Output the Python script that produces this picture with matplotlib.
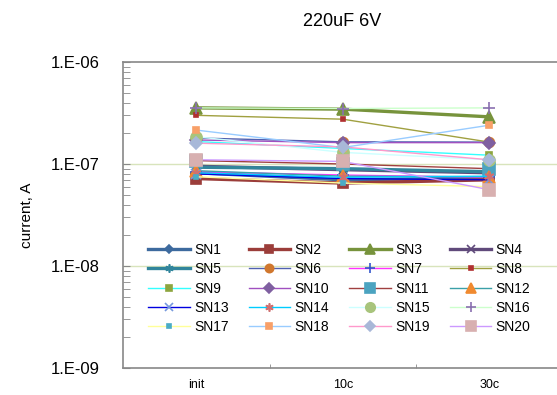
import math
import matplotlib
matplotlib.use("Agg")
import matplotlib.pyplot as plt
from matplotlib.ticker import FixedLocator, NullFormatter, FixedFormatter

plt.rcParams['font.family'] = ['Liberation Sans', 'DejaVu Sans']

categories = ['init', '10c', '30c']
names = ['SN%d' % i for i in range(1, 21)]
y_ticks = [1e-9, 1e-8, 1e-7, 1e-6]
y_tick_labels = ['1.E-09', '1.E-08', '1.E-07', '1.E-06']

SN1 = [8.2e-8, 7.0e-8, 7.3e-8]
SN2 = [7.2e-8, 6.5e-8, 7.0e-8]
SN3 = [3.55e-7, 3.45e-7, 2.9e-7]
SN4 = [9.5e-8, 8.8e-8, 8.2e-8]
SN5 = [9.3e-8, 9.0e-8, 8.4e-8]
SN6 = [1.8e-7, 1.65e-7, 1.64e-7]
SN7 = [8.4e-8, 7.8e-8, 7.4e-8]
SN8 = [3.0e-7, 2.75e-7, 1.64e-7]
SN9 = [1.66e-7, 1.42e-7, 1.22e-7]
SN10 = [1.72e-7, 1.62e-7, 1.62e-7]
SN11 = [1.08e-7, 1.0e-7, 9.0e-8]
SN12 = [8.6e-8, 7.6e-8, 7.5e-8]
SN13 = [8.0e-8, 7.2e-8, 7.0e-8]
SN14 = [8.2e-8, 7.4e-8, 7.6e-8]
SN15 = [1.85e-7, 1.3e-7, 1.1e-7]
SN16 = [3.55e-7, 3.5e-7, 3.55e-7]
SN17 = [7.5e-8, 6.5e-8, 6.0e-8]
SN18 = [2.15e-7, 1.45e-7, 2.4e-7]
SN19 = [1.6e-7, 1.47e-7, 1.1e-7]
SN20 = [1.1e-7, 1.06e-7, 5.6e-8]
series = [SN1, SN2, SN3, SN4, SN5, SN6, SN7, SN8, SN9, SN10,
          SN11, SN12, SN13, SN14, SN15, SN16, SN17, SN18, SN19, SN20]

# (line color, line width, marker, marker size, marker color)
styles = [
    ('#3D6A9E', 2.4, 'D', 5, '#3D6A9E'),
    ('#9B3D3A', 2.4, 's', 7, '#9B3D3A'),
    ('#77933C', 2.4, '^', 9, '#77933C'),
    ('#604A7B', 2.4, 'x', 6, '#604A7B'),
    ('#31859C', 2.4, (6, 2, 0), 7, '#31859C'),
    ('#5060B0', 1.0, 'o', 7, '#D0772E'),
    ('#FF33FF', 1.0, '+', 8, '#3355CC'),
    ('#A0A040', 1.0, 's', 3.5, '#B03030'),
    ('#33FFFF', 1.0, 's', 5, '#8DA53F'),
    ('#A050C0', 1.0, 'D', 6, '#7F5FA0'),
    ('#A04040', 1.0, 's', 8, '#4BA3C0'),
    ('#3BA0A8', 1.0, '^', 8, '#F08A30'),
    ('#0000E0', 1.0, 'x', 7, '#7799DD'),
    ('#00CCFF', 1.0, (6, 2, 0), 7, '#D07070'),
    ('#CCFFFF', 1.0, 'o', 8, '#A8C47C'),
    ('#CCFFCC', 1.0, '+', 8, '#8A70B0'),
    ('#FFFF99', 1.0, 's', 3.5, '#4AACC6'),
    ('#99CCFF', 1.0, 's', 5, '#F8A068'),
    ('#FF99CC', 1.0, 'D', 6, '#A8B8D8'),
    ('#CC99FF', 1.0, 's', 8, '#D8B0B0'),
]

W, H = 557, 395
fig = plt.figure(figsize=(W / 100, H / 100), dpi=100)
ax_l, ax_r, ax_t, ax_b = 123, 562.5, 62, 368
ax = fig.add_axes([ax_l / W, 1 - ax_b / H, (ax_r - ax_l) / W, (ax_b - ax_t) / H])

x = list(range(len(categories)))
handles = []
for name, ys, (lc, lw, mk, ms, mc) in zip(names, series, styles):
    h, = ax.plot(x, ys, color=lc, lw=lw, marker=mk, ms=ms, mfc=mc, mec=mc,
                 mew=1.2, label=name, clip_on=False)
    handles.append(h)

ax.set_yscale('log')
ax.set_ylim(1e-9, 1e-6)
ax.set_xlim(-0.5, 2.5)

ax.yaxis.set_major_locator(FixedLocator(y_ticks))
ax.yaxis.set_major_formatter(FixedFormatter(y_tick_labels))
minor = [m * d for d in [1e-9, 1e-8, 1e-7] for m in range(2, 10)]
ax.yaxis.set_minor_locator(FixedLocator(minor))
ax.yaxis.set_minor_formatter(NullFormatter())
ax.tick_params(axis='y', which='both', direction='in', length=5, color='#888888',
               labelsize=12, pad=17)

ax.set_xticks(x)
ax.set_xticklabels(categories)
ax.tick_params(axis='x', which='major', length=0, labelsize=9, pad=8)
ax.xaxis.set_minor_locator(FixedLocator([0.5, 1.5]))
ax.tick_params(axis='x', which='minor', direction='in', length=3, color='#888888')

for v in [1e-8, 1e-7]:
    ax.axhline(v, color='#D8E4BC', lw=1.0, zorder=0.5)

for s in ['left', 'bottom', 'top']:
    ax.spines[s].set_color('#888888')
    ax.spines[s].set_linewidth(1.2)
ax.spines['right'].set_visible(False)

ax.set_ylabel('current, A', fontsize=11, labelpad=12)
fig.text(342 / W, 1 - 22 / H, '220uF 6V', fontsize=13, ha='center', va='center')

order = []
ncol = 4
nrow = 5
for c in range(ncol):
    for r in range(nrow):
        order.append(r * ncol + c)
leg = ax.legend([handles[i] for i in order], [names[i] for i in order],
                ncol=ncol, loc='upper left',
                bbox_to_anchor=(148 / W, 1 - 243 / H), bbox_transform=fig.transFigure,
                frameon=False, fontsize=10, handlelength=3.0, handletextpad=0.3,
                columnspacing=1.45, labelspacing=0.38, borderpad=0, borderaxespad=0,
                markerscale=0.85)

fig.savefig('out.png', dpi=100)
